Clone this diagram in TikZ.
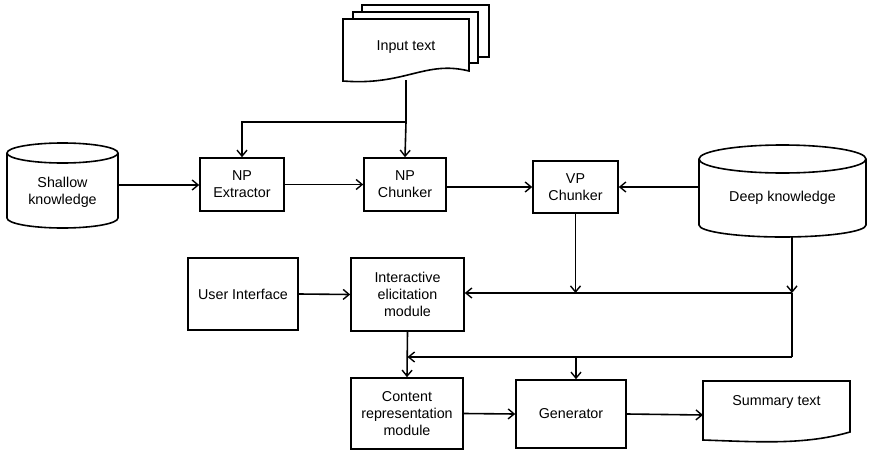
\documentclass[tikz,border=0pt]{standalone}
\usepackage{fontspec}
\setmainfont{Liberation Sans}
\usetikzlibrary{arrows.meta}
\begin{document}
\begin{tikzpicture}[x=1pt,y=-1pt,
  line width=1.6pt,
  every node/.style={font=\fontsize{14.3}{17}\selectfont, align=center, inner sep=0pt},
  box/.style={draw, rectangle, line width=1.6pt},
  arr/.style={line width=1.6pt, -{Straight Barb[length=6pt,width=10pt,line width=1.4pt]}},
  ln/.style={line width=1.6pt}]
\useasboundingbox (0,0) rectangle (870,452);

% --- stacked document: input text ---
\filldraw[fill=white] (362,5) rectangle (489,57);
\filldraw[fill=white] (353,12) rectangle (478,63);
\filldraw[fill=white] (343,19) -- (469,19) -- (469,71)
  .. controls (425,60) and (405,86) .. (343,81) -- cycle;
\node (input) at (406,47) {Input text};
\coordinate (inputb) at (406,80);

% --- shallow knowledge store (y axis points down) ---
\filldraw[fill=white] (7,153) -- (7,218) arc[start angle=180,end angle=0,x radius=55.5,y radius=10]
  -- (118,153) arc[start angle=0,end angle=-180,x radius=55.5,y radius=10] -- cycle;
\draw (7,153) arc[start angle=180,end angle=0,x radius=55.5,y radius=10];
\node (shallow) at (62.5,192) {Shallow\\knowledge};
\coordinate (shallowE) at (118,185);

% --- deep knowledge store ---
\filldraw[fill=white] (699,159) -- (699,225) arc[start angle=180,end angle=0,x radius=83.5,y radius=12]
  -- (866,159) arc[start angle=0,end angle=-180,x radius=83.5,y radius=14] -- cycle;
\draw (699,159) arc[start angle=180,end angle=0,x radius=83.5,y radius=14];
\node (deep) at (782.5,198) {Deep knowledge};
\coordinate (deepW) at (699,187);
\coordinate (deepS) at (792,237);

% --- processing boxes ---
\node[box, minimum width=84, minimum height=53] (npx) at (242,184.5) {NP\\Extractor};
\node[box, minimum width=82, minimum height=53] (npc) at (405,184.5) {NP\\Chunker};
\node[box, minimum width=85, minimum height=52] (vpc) at (575.5,187) {VP\\Chunker};
\node[box, minimum width=110, minimum height=72] (ui) at (243,294) {User Interface};
\node[box, minimum width=113, minimum height=73] (iem) at (407.5,294.5) {Interactive\\elicitation\\module};
\node[box, minimum width=112, minimum height=71] (crm) at (407,413.5) {Content\\representation\\module};
\node[box, minimum width=110, minimum height=68] (gen) at (571,414) {Generator};

% --- summary document ---
\filldraw[fill=white] (703,381) -- (850,381) -- (850,432)
  .. controls (805,445) and (760,442) .. (703,440) -- cycle;
\node (summary) at (776.5,402) {Summary text};
\coordinate (summaryW) at (703,415);

% --- junctions ---
\coordinate (j1) at (406,122);
\coordinate (j2) at (792,293);
\coordinate (j3) at (792,357);
\coordinate (j4) at (576,357);

% --- connectors ---
\draw[ln] (inputb) -- (j1);
\draw[arr] (j1) -| (npx.north);
\draw[arr] (j1) -- (npc.north);
\draw[arr] (shallowE) -- (shallowE -| npx.west);
\draw[arr] (npx.east) -- (npc.west);
\draw[arr] (npc.east |- vpc.west) -- (vpc.west);
\draw[arr] (deepW) -- (deepW -| vpc.east);
\draw[arr] (vpc.south) -- (vpc.south |- j2);
\draw[arr] (deepS) -- (j2);
\draw[arr] (j2) -- (j2 -| iem.east);
\draw[ln] (j2) -- (j3);
\draw[arr] (j3) -- (j3 -| iem.south);
\draw[arr] (iem.south) -- (crm.north);
\draw[arr] (j4) -- (j4 |- gen.north);
\draw[arr] (ui.east) -- (iem.west);
\draw[arr] (crm.east) -- (gen.west);
\draw[arr] (gen.east) -- (summaryW);
\end{tikzpicture}
\end{document}
